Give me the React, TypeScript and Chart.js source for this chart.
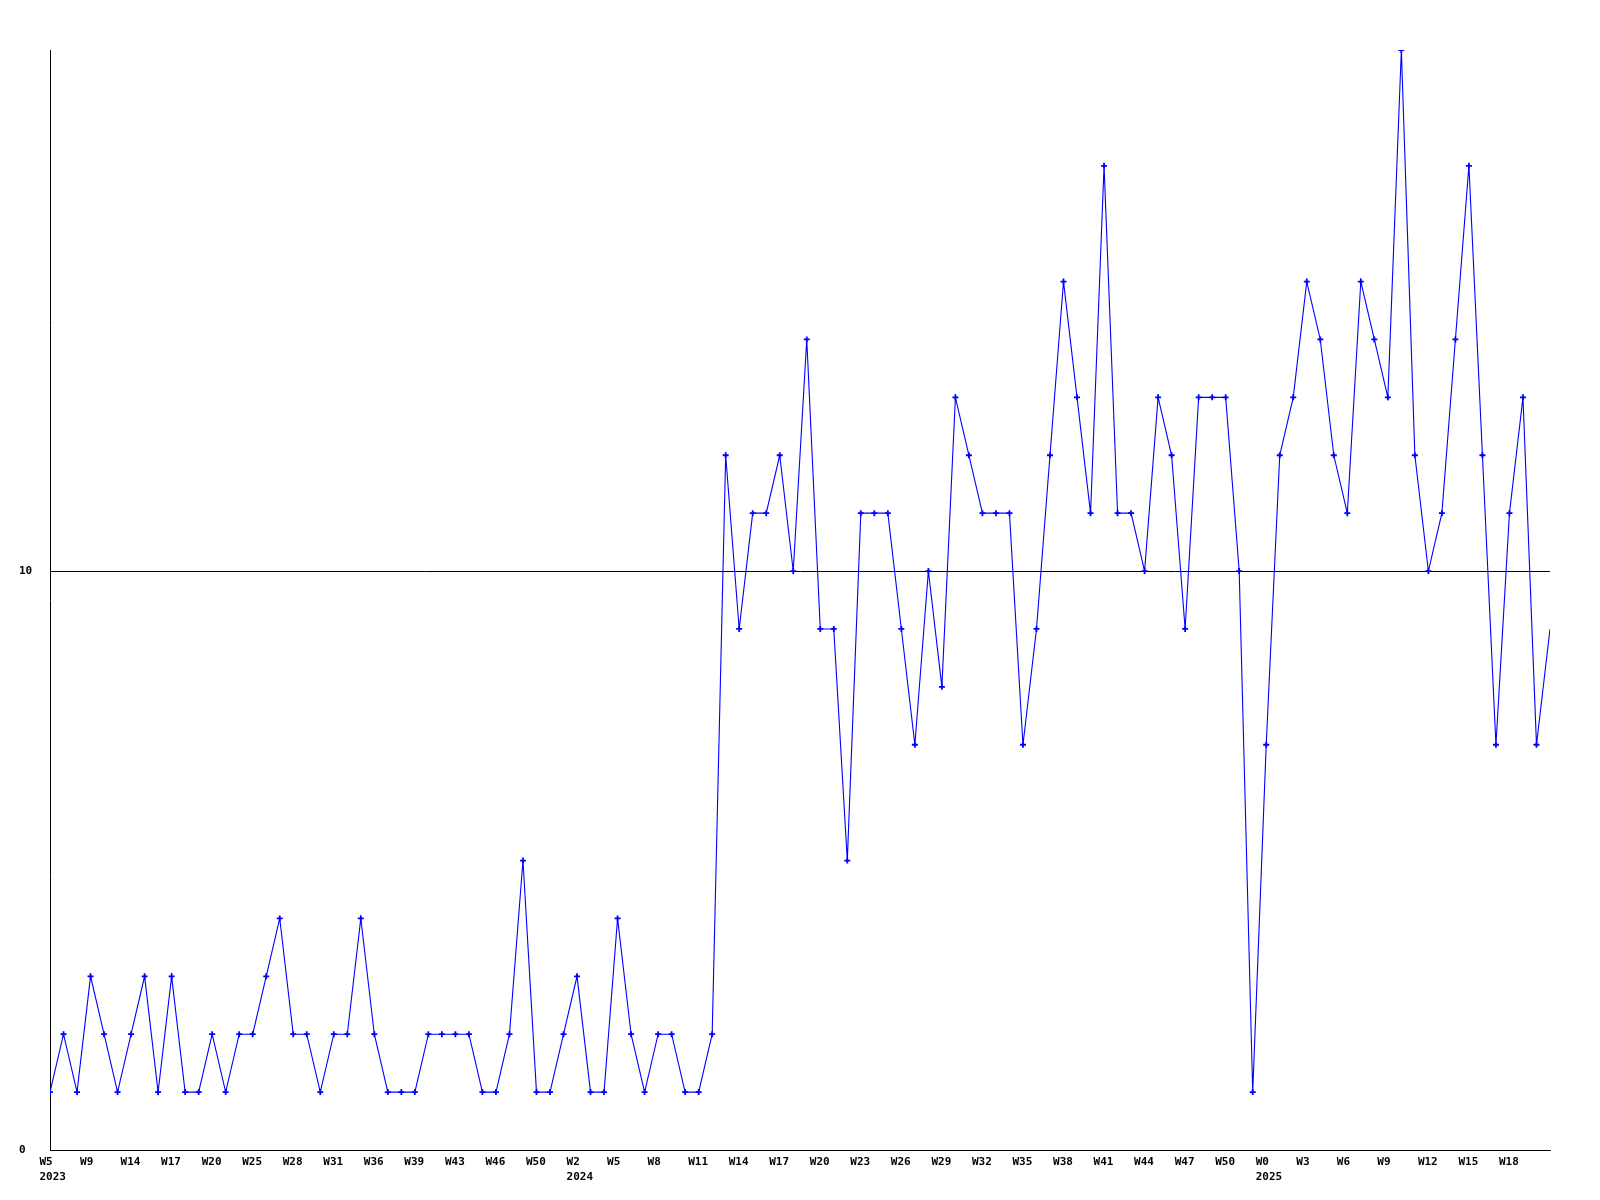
import { useEffect, useRef } from "react";
import { Chart, registerables } from "chart.js";

Chart.register(...registerables);

// Weekly counts, split by the year shown under the tick labels
const counts2023 = [1, 2, 1, 3, 2, 1, 2, 3, 1, 3, 1, 1, 2, 1, 2, 2, 3, 4, 2, 2, 1, 2, 2, 4, 2, 1, 1, 1, 2, 2, 2, 2, 1, 1, 2, 5, 1, 1, 2];
const counts2024 = [3, 1, 1, 4, 2, 1, 2, 2, 1, 1, 2, 12, 9, 11, 11, 12, 10, 14, 9, 9, 5, 11, 11, 11, 9, 7, 10, 8, 13, 12, 11, 11, 11, 7, 9, 12, 15, 13, 11, 17, 11, 11, 10, 13, 12, 9, 13, 13, 13, 10, 1];
const counts2025 = [7, 12, 13, 15, 14, 12, 11, 15, 14, 13, 19, 12, 10, 11, 14, 17, 12, 7, 11, 13, 7, 9];

const weeklyCounts = [...counts2023, ...counts2024, ...counts2025];

// One tick label every third point
const tickLabels = [
  "W5", "W9", "W14", "W17", "W20", "W25", "W28", "W31", "W36", "W39", "W43", "W46", "W50",
  "W2", "W5", "W8", "W11", "W14", "W17", "W20", "W23", "W26", "W29", "W32", "W35", "W38", "W41", "W44", "W47", "W50",
  "W0", "W3", "W6", "W9", "W12", "W15", "W18",
];
const yearLabels: Record<number, string> = { 0: "2023", 13: "2024", 30: "2025" };
const TICK_STEP = 3;

const yTickValues = [0, 10];
const yMax = 19;

const FONT = {
  family: '"DejaVu Sans Mono", "Liberation Mono", monospace',
  size: 11,
  weight: "bold" as const,
  lineHeight: 1.35,
};

export default function App() {
  const ref = useRef<HTMLCanvasElement>(null);

  useEffect(() => {
    const last = weeklyCounts.length - 1;
    const chart = new Chart(ref.current!, {
      type: "line",
      data: {
        datasets: [
          {
            data: weeklyCounts.map((v, i) => ({ x: i, y: v })),
            borderColor: "#0000ff",
            borderWidth: 1.1,
            pointStyle: "cross",
            pointRadius: (c: any) => (c.dataIndex === last ? 0 : 3),
            pointBorderColor: "#0000ff",
            pointBackgroundColor: "#0000ff",
            pointBorderWidth: 1.8,
            tension: 0,
            fill: false,
          },
        ],
      },
      options: {
        responsive: false,
        animation: false,
        events: [],
        layout: { padding: { left: 19, top: 50, right: 50, bottom: 0 } },
        plugins: { legend: { display: false }, tooltip: { enabled: false } },
        scales: {
          x: {
            type: "linear",
            min: 0,
            max: last,
            afterBuildTicks: (s: any) => {
              s.ticks = tickLabels.map((_, i) => ({ value: i * TICK_STEP }));
            },
            afterFit: (s: any) => {
              s.height = 50;
            },
            grid: { display: false, drawTicks: false },
            border: { color: "#000", width: 1 },
            ticks: {
              autoSkip: false,
              maxRotation: 0,
              minRotation: 0,
              align: "start",
              labelOffset: -10.5,
              padding: 5,
              color: "#000",
              font: FONT,
              callback: (_v: any, i: number) =>
                yearLabels[i] ? [tickLabels[i], yearLabels[i]] : tickLabels[i],
            },
          },
          y: {
            type: "linear",
            min: 0,
            max: yMax,
            afterBuildTicks: (s: any) => {
              s.ticks = yTickValues.map((v) => ({ value: v }));
            },
            afterFit: (s: any) => {
              s.width = 31;
            },
            grid: { color: "#000", lineWidth: 1, drawTicks: false },
            border: { color: "#000", width: 1 },
            ticks: {
              crossAlign: "far",
              padding: 0,
              color: "#000",
              font: FONT,
            },
          },
        },
      },
    } as any);
    return () => chart.destroy();
  }, []);

  return (
    <div style={{ position: "fixed", left: 0, top: 0, width: 1600, height: 1200, background: "#fff" }}>
      <canvas ref={ref} width={1600} height={1200} style={{ display: "block" }} />
    </div>
  );
}
